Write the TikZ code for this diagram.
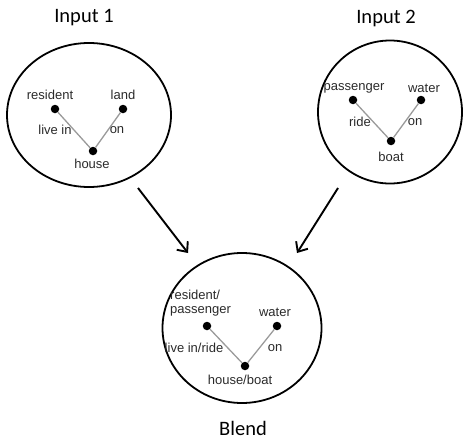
\documentclass[tikz,border=0pt]{standalone}
\usepackage{fontspec}
\setmainfont{Liberation Sans}
\newfontfamily\titlefont{Carlito}
\usetikzlibrary{shapes.geometric,arrows.meta}
\definecolor{txt}{HTML}{2A2A2A}
\definecolor{edgegray}{HTML}{9A9A9A}
\begin{document}
\begin{tikzpicture}[x=1pt,y=-1pt,
  space/.style={draw=black,line width=1.8pt,ellipse,inner sep=0pt},
  dot/.style={circle,fill=black,inner sep=0pt,minimum size=8.5pt},
  lbl/.style={text=txt,font=\fontsize{13}{13.5}\selectfont,inner sep=0pt},
  ttl/.style={font=\titlefont\fontsize{20.5}{22}\selectfont,inner sep=0pt},
  rel/.style={draw=edgegray,line width=1.3pt},
  arr/.style={line width=1.9pt,-{Straight Barb[length=8pt,width=14pt,line width=1.9pt]}}]
\useasboundingbox (0,0) rectangle (465,439);
% titles
\node[ttl] (t1) at (84,18) {Input 1};
\node[ttl] (t2) at (386,18) {Input 2};
\node[ttl] (t3) at (243,428) {Blend};
% spaces
\node[space,minimum width=164pt,minimum height=144pt] (c1) at (89,115) {};
\node[space,minimum width=144pt,minimum height=143pt] (c2) at (390,112) {};
\node[space,minimum width=159pt,minimum height=150pt] (c3) at (242,328) {};
% input 1
\node[dot] (res) at (55,109) {};
\node[dot] (land) at (123,109) {};
\node[dot] (house) at (93,151) {};
\draw[rel] (res) -- (house);
\draw[rel] (land) -- (house);
\node[lbl] (lres) at (50,95) {resident};
\node[lbl] (lland) at (123,95) {land};
\node[lbl] (llive) at (55,130) {live in};
\node[lbl] (lon1) at (117,130) {on};
\node[lbl] (lhouse) at (92,164) {house};
% input 2
\node[dot] (pas) at (353,100) {};
\node[dot] (wat) at (421,100) {};
\node[dot] (boat) at (391,141) {};
\draw[rel] (pas) -- (boat);
\draw[rel] (wat) -- (boat);
\node[lbl] (lpas) at (354,88) {passenger};
\node[lbl] (lwat) at (424,88) {water};
\node[lbl] (lride) at (360,122) {ride};
\node[lbl] (lon2) at (415,122) {on};
\node[lbl] (lboat) at (391,157) {boat};
% blend
\node[dot] (bres) at (207,326) {};
\node[dot] (bwat) at (277,326) {};
\node[dot] (bhb) at (245,366) {};
\draw[rel] (bres) -- (bhb);
\draw[rel] (bwat) -- (bhb);
\node[lbl,align=left,anchor=north west] (lbres) at (170,290) {resident/\\passenger};
\node[lbl] (lbwat) at (275,312) {water};
\node[lbl] (lblive) at (194,348) {live in/ride};
\node[lbl] (lbon) at (275,348) {on};
\node[lbl] (lbhb) at (240,380) {house/boat};
% arrows
\coordinate (a1s) at (138,188);
\coordinate (a1e) at (188,253);
\coordinate (a2s) at (338,188);
\coordinate (a2e) at (297,253);
\draw[arr] (a1s) -- (a1e);
\draw[arr] (a2s) -- (a2e);
\end{tikzpicture}
\end{document}
